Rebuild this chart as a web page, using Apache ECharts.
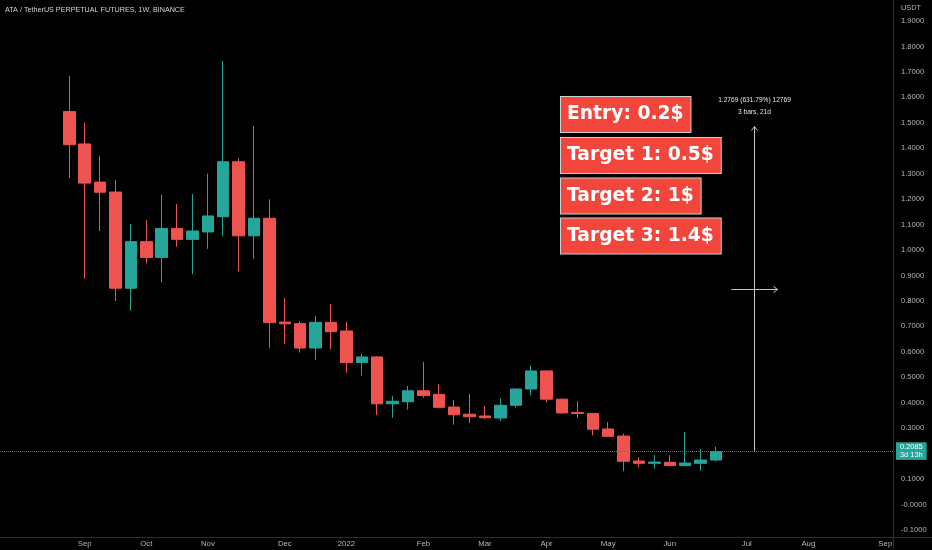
<!DOCTYPE html>
<html><head><meta charset="utf-8">
<script src="https://cdn.jsdelivr.net/npm/echarts@6/dist/echarts.min.js"></script>
<style>html,body{margin:0;padding:0;background:#000;}#c{width:932px;height:550px;}</style>
</head><body><div id="c"></div>
<script>
// Weekly candles (first candle = slot 4 on the time scale)
const opens  = [1.544,1.417,1.267,1.228,0.850,1.033,0.971,1.085,1.042,1.071,1.131,1.347,1.056,1.125,0.717,0.711,0.615,0.716,0.682,0.558,0.580,0.396,0.404,0.447,0.433,0.383,0.355,0.348,0.340,0.390,0.454,0.525,0.414,0.362,0.358,0.297,0.269,0.171,0.162,0.166,0.153,0.162,0.175];
const closes = [1.414,1.263,1.227,0.850,1.033,0.971,1.085,1.042,1.075,1.134,1.347,1.056,1.125,0.715,0.710,0.615,0.716,0.679,0.558,0.580,0.396,0.406,0.447,0.428,0.382,0.353,0.345,0.341,0.390,0.454,0.525,0.414,0.360,0.358,0.296,0.268,0.170,0.162,0.167,0.153,0.163,0.175,0.2085];
const lows   = [1.284,0.887,1.075,0.800,0.762,0.948,0.873,1.013,0.905,1.005,1.056,0.916,0.965,0.616,0.631,0.597,0.568,0.611,0.518,0.506,0.352,0.341,0.373,0.420,0.377,0.314,0.320,0.335,0.328,0.381,0.429,0.402,0.357,0.341,0.272,0.265,0.131,0.146,0.141,0.152,0.151,0.133,0.170];
const highs  = [1.684,1.500,1.370,1.275,1.102,1.118,1.218,1.181,1.220,1.300,1.743,1.360,1.487,1.199,0.812,0.721,0.741,0.788,0.718,0.592,0.583,0.427,0.466,0.561,0.474,0.411,0.434,0.387,0.417,0.456,0.546,0.528,0.416,0.406,0.360,0.324,0.278,0.186,0.195,0.194,0.285,0.218,0.227];
const firstSlot = 4;
const slotCount = 58;
// Time-scale tick labels
const tickSlots  = [5,9,13,18,22,27,31,35,39,43,48,52,57];
const tickLabels = ['Sep','Oct','Nov','Dec','2022','Feb','Mar','Apr','May','Jun','Jul','Aug','Sep'];
// Last price badge
const lastPrice = 0.2085;
const lastPriceText = ['0.2085','3d 13h'];
// Measure tool
const measureFrom = 0.2085, measureTo = 1.4854;
const measureStartSlot = 47, measureEndSlot = 50;
const measureText = ['1.2769 (631.79%) 12769','3 bars, 21d'];
// Text callouts
const callouts = ['Entry: 0.2$','Target 1: 0.5$','Target 2: 1$','Target 3: 1.4$'];

const FF = '"Liberation Sans Narrow","Liberation Sans",sans-serif';
const slots = Array.from({length: slotCount}, (_, i) => 'w' + i);
const labelAt = {};
tickSlots.forEach((s, k) => labelAt[s] = tickLabels[k]);
const candleData = opens.map((o, i) => [i + firstSlot, o, closes[i], lows[i], highs[i]]);

const chart = echarts.init(document.getElementById('c'), null, {renderer: 'canvas'});
chart.setOption({
  backgroundColor: '#000000',
  animation: false,
  grid: {left: 0, right: 39, top: 21, bottom: 20},
  xAxis: [
    {type: 'category', data: slots, boundaryGap: true, offset: 7,
     axisLine: {show: false}, axisTick: {show: false}, splitLine: {show: false},
     axisLabel: {interval: 0, color: '#b2b5be', fontSize: 7.8, fontFamily: FF, margin: 3,
                 formatter: (v, i) => labelAt[i] || ''}},
    {type: 'value', min: -0.5, max: slotCount - 0.5, show: false}
  ],
  yAxis: {type: 'value', position: 'right', min: -0.1, max: 1.9, interval: 0.1,
    axisLine: {show: false}, axisTick: {show: false}, splitLine: {show: false},
    axisLabel: {color: '#b2b5be', fontSize: 7.6, fontFamily: FF, margin: 8,
      formatter: v => Math.abs(v) < 1e-9 ? '-0.0000' : v.toFixed(4)}},
  series: [
    {type: 'candlestick', data: candleData, encode: {x: 0, y: [1, 2, 3, 4]}, barWidth: 12,
     itemStyle: {color: '#26a69a', color0: '#ef5350', borderColor: '#26a69a', borderColor0: '#ef5350', borderWidth: 1},
     markLine: {silent: true, symbol: ['none', 'none'], animation: false,
       lineStyle: {type: 'dotted', color: '#2f8f86', width: 1},
       label: {show: true, position: 'end', distance: 3, formatter: lastPriceText.join('\n'),
         backgroundColor: '#26a69a', color: '#ffffff', fontSize: 7.4, fontFamily: FF, lineHeight: 7.8, padding: [1, 4]},
       data: [{yAxis: lastPrice}]}},
    {type: 'line', xAxisIndex: 1, data: [], silent: true}
  ]
});

const P = (x, y) => chart.convertToPixel({xAxisIndex: 1, yAxisIndex: 0}, [x, y]);
const midSlot = (measureStartSlot + measureEndSlot) / 2;
const midPrice = (measureFrom + measureTo) / 2;
const bottomPt = P(midSlot, measureFrom), tipPt = P(midSlot, measureTo);
const hA = P(measureStartSlot, midPrice), hB = P(measureEndSlot, midPrice);
const xm = Math.round(bottomPt[0]) + 0.5;
const hy = Math.round(hA[1]) + 0.5;
const MC = '#c3c6cf';
const lineEl = (pts) => ({type: 'polyline', shape: {points: pts}, style: {stroke: MC, lineWidth: 1, fill: null}, silent: true});

const graphics = [
  {type: 'line', shape: {x1: 893.5, y1: 0, x2: 893.5, y2: 550}, style: {stroke: '#2a2e39', lineWidth: 1}, silent: true},
  {type: 'line', shape: {x1: 0, y1: 537.5, x2: 932, y2: 537.5}, style: {stroke: '#2a2e39', lineWidth: 1}, silent: true},
  {type: 'text', x: 5, y: 10, style: {text: 'ATA / TetherUS PERPETUAL FUTURES, 1W, BINANCE', fill: '#d1d4dc', font: '7.2px ' + FF, verticalAlign: 'middle'}},
  {type: 'text', x: 901, y: 8, style: {text: 'USDT', fill: '#b2b5be', font: '7.4px ' + FF, verticalAlign: 'middle'}},
  lineEl([[xm, bottomPt[1]], [xm, tipPt[1]]]),
  lineEl([[xm - 3, tipPt[1] + 4], [xm, tipPt[1]], [xm + 3, tipPt[1] + 4]]),
  lineEl([[hA[0], hy], [hB[0], hy]]),
  lineEl([[hB[0] - 4, hy - 3], [hB[0], hy], [hB[0] - 4, hy + 3]]),
  {type: 'text', x: xm, y: tipPt[1] - 26, style: {text: measureText[0], fill: '#e0e3eb', font: '6.6px ' + FF, align: 'center', verticalAlign: 'middle'}},
  {type: 'text', x: xm, y: tipPt[1] - 14, style: {text: measureText[1], fill: '#e0e3eb', font: '6.6px ' + FF, align: 'center', verticalAlign: 'middle'}}
];
const calloutTops = [97, 138, 178.5, 218.5];
callouts.forEach((t, k) => {
  graphics.push({type: 'text', x: 561, y: calloutTops[k], z: 10,
    style: {text: t, fill: '#ffffff', font: 'bold 18.7px "DejaVu Sans", sans-serif', lineHeight: 19,
      backgroundColor: '#f2463c', borderColor: '#c9d3d2', borderWidth: 1, padding: [8, 7, 8, 6]}});
});
chart.setOption({graphic: graphics});
</script></body></html>
